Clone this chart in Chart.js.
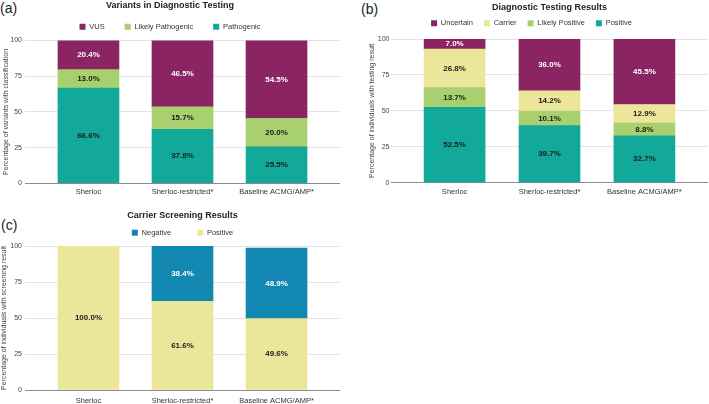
<!DOCTYPE html>
<html>
<head>
<meta charset="utf-8">
<script src="https://cdn.jsdelivr.net/npm/chart.js@4.4.0/dist/chart.umd.min.js"></script>
<style>
  html, body { margin: 0; padding: 0; background: #fff; }
  body { width: 709px; height: 404px; position: relative; overflow: hidden; font-family: "Liberation Sans", Arial, sans-serif; }
  canvas { position: absolute; }
  .tag { position: absolute; font-size: 14px; line-height: 14px; color: #222; }
</style>
</head>
<body>
<div class="tag" style="left:0px;top:1px">(a)</div>
<div class="tag" style="left:361px;top:2px">(b)</div>
<div class="tag" style="left:1px;top:218px">(c)</div>
<canvas id="chartA" width="355" height="202" style="left:0px;top:0px"></canvas>
<canvas id="chartB" width="354" height="202" style="left:355px;top:0px"></canvas>
<canvas id="chartC" width="355" height="202" style="left:0px;top:202px"></canvas>
<script>
// shared categories / ticks
const categories = ['Sherloc', 'Sherloc-restricted*', 'Baseline ACMG/AMP*'];
const yTickValues = [0, 25, 50, 75, 100];

// (a) Variants in Diagnostic Testing
const variantsPathogenic = [66.6, 37.8, 25.5];
const variantsLikelyPathogenic = [13.0, 15.7, 20.0];
const variantsVUS = [20.4, 46.5, 54.5];

// (b) Diagnostic Testing Results
const diagPositive = [52.5, 39.7, 32.7];
const diagLikelyPositive = [13.7, 10.1, 8.8];
const diagCarrier = [26.8, 14.2, 12.9];
const diagUncertain = [7.0, 36.0, 45.5];

// (c) Carrier Screening Results
const carrierPositive = [100.0, 61.6, 49.6];
const carrierNegative = [0, 38.4, 48.9];

const FONT = "'Liberation Sans', Arial, sans-serif";
const PURPLE = '#8b2462', GREEN = '#a9d06f', TEAL = '#12a89a', YELLOW = '#ece69b', BLUE = '#1187b1';
const DARK = '#1b1b1b', WHITE = '#ffffff';

Chart.defaults.font.family = FONT;
Chart.defaults.animation = false;

// percentage labels in the middle of each segment
const barLabels = {
    id: 'barLabels',
    afterDatasetsDraw(chart) {
        const ctx = chart.ctx;
        ctx.save();
        ctx.font = 'bold 8px ' + FONT;
        ctx.textAlign = 'center';
        ctx.textBaseline = 'middle';
        chart.data.datasets.forEach((ds, i) => {
            chart.getDatasetMeta(i).data.forEach((bar, j) => {
                const v = ds.data[j];
                if (!v) return;
                ctx.fillStyle = ds.labelColor;
                ctx.fillText(v.toFixed(1) + '%', bar.x, (bar.y + bar.base) / 2);
            });
        });
        ctx.restore();
    }
};

function makeChart(id, o) {
    return new Chart(document.getElementById(id), {
        type: 'bar',
        data: {
            labels: categories,
            datasets: o.series.map(s => ({
                label: s.label,
                data: s.data,
                backgroundColor: s.color,
                labelColor: s.labelColor,
                barThickness: 61
            }))
        },
        options: {
            responsive: false,
            layout: { padding: { right: o.rightPad } },
            scales: {
                x: {
                    stacked: true,
                    grid: { display: false, drawTicks: false },
                    border: { display: false },
                    ticks: { font: { size: 7.5 }, color: '#333', padding: o.xPad, maxRotation: 0, autoSkip: false },
                    afterBuildTicks: s => {
                        // spread categories like the original (wide side margins)
                        s._valueRange = o.span;
                        s._startValue = -(o.span - (categories.length - 1)) / 2;
                    },
                    afterFit: s => { s.height = o.xH; }
                },
                y: {
                    stacked: true,
                    min: 0,
                    max: 100,
                    border: { display: false },
                    grid: {
                        drawTicks: false,
                        color: c => (c.tick && c.tick.value === 0) ? '#8c8c8c' : '#e3e3e3'
                    },
                    afterBuildTicks: s => { s.ticks = yTickValues.map(v => ({ value: v })); },
                    ticks: { font: { size: 7 }, color: '#444', padding: o.yPad },
                    title: {
                        display: true,
                        text: o.yTitle,
                        font: { size: 7 },
                        color: '#444',
                        padding: { top: o.yTitlePad, bottom: 0 }
                    },
                    afterFit: s => { s.width = o.yW; }
                }
            },
            plugins: {
                title: {
                    display: true,
                    text: o.title,
                    fullSize: o.titleFull,
                    color: '#222',
                    font: { size: 9, weight: 'bold', lineHeight: '10px' },
                    padding: { top: o.titleTop, bottom: o.titleBottom }
                },
                subtitle: {
                    display: o.spacer > 0,
                    text: '',
                    weight: 500,
                    font: { size: 1, lineHeight: '0px' },
                    padding: { top: o.spacer, bottom: 0 }
                },
                legend: {
                    reverse: true,
                    fullSize: o.legendFull,
                    maxHeight: o.legendMaxH,
                    labels: {
                        boxWidth: 6,
                        boxHeight: 6,
                        padding: o.legendPad,
                        color: '#333',
                        font: { size: 7.5 }
                    }
                },
                tooltip: { enabled: false }
            }
        },
        plugins: [barLabels]
    });
}

makeChart('chartA', {
    title: 'Variants in Diagnostic Testing',
    yTitle: 'Percentage of variants with classification',
    series: [
        { label: 'Pathogenic', data: variantsPathogenic, color: TEAL, labelColor: DARK },
        { label: 'Likely Pathogenic', data: variantsLikelyPathogenic, color: GREEN, labelColor: DARK },
        { label: 'VUS', data: variantsVUS, color: PURPLE, labelColor: WHITE }
    ],
    rightPad: 15, yW: 25, xH: 18.7, xPad: 4.2, yPad: 3, yTitlePad: 1.8, span: 3.35,
    titleFull: true, titleTop: 1, titleBottom: -8.05,
    legendFull: true, legendPad: 20, legendMaxH: 100, spacer: 0
});

makeChart('chartB', {
    title: 'Diagnostic Testing Results',
    yTitle: 'Percentage of individuals with testing result',
    series: [
        { label: 'Positive', data: diagPositive, color: TEAL, labelColor: DARK },
        { label: 'Likely Positive', data: diagLikelyPositive, color: GREEN, labelColor: DARK },
        { label: 'Carrier', data: diagCarrier, color: YELLOW, labelColor: DARK },
        { label: 'Uncertain', data: diagUncertain, color: PURPLE, labelColor: WHITE }
    ],
    rightPad: 1, yW: 36, xH: 19.3, xPad: 5.1, yPad: 1.5, yTitlePad: 13.3, span: 3.34,
    titleFull: false, titleTop: 2.5, titleBottom: -3.95,
    legendFull: true, legendPad: 11, legendMaxH: 100, spacer: 1.95
});

makeChart('chartC', {
    title: 'Carrier Screening Results',
    yTitle: 'Percentage of individuals with screening result',
    series: [
        { label: 'Positive', data: carrierPositive, color: YELLOW, labelColor: DARK },
        { label: 'Negative', data: carrierNegative, color: BLUE, labelColor: WHITE }
    ],
    rightPad: 15, yW: 25, xH: 14, xPad: 6.2, yPad: 3, yTitlePad: 0, span: 3.35,
    titleFull: false, titleTop: 8.8, titleBottom: -17.85,
    legendFull: false, legendPad: 26, legendMaxH: 43.05, spacer: 0
});
</script>
</body>
</html>
